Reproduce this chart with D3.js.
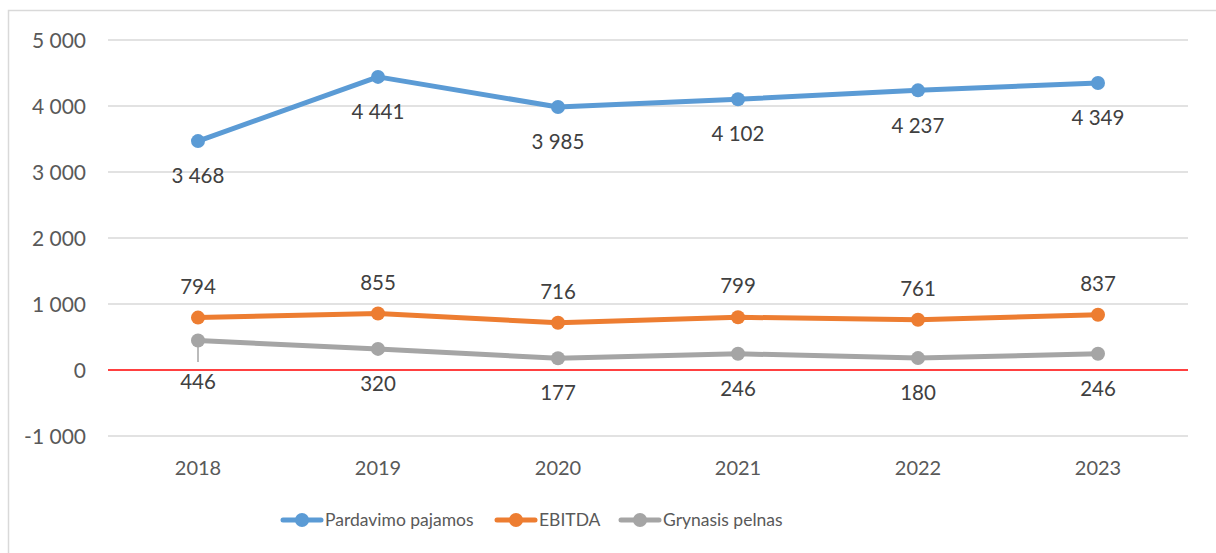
<!DOCTYPE html>
<html><head><meta charset="utf-8">
<script src="https://cdn.jsdelivr.net/npm/d3@7"></script>
<style>html,body{margin:0;padding:0;background:#fff;}svg{display:block;}</style>
</head><body>
<svg id="c" width="1216" height="553"></svg>
<script>
const years = ["2018","2019","2020","2021","2022","2023"];
const pardavimo = [3468, 4441, 3985, 4102, 4237, 4349];
const ebitda = [794, 855, 716, 799, 761, 837];
const grynasis = [446, 320, 177, 246, 180, 246];
const yTicks = [-1000, 0, 1000, 2000, 3000, 4000, 5000];
const seriesNames = ["Pardavimo pajamos", "EBITDA", "Grynasis pelnas"];
const colors = ["#5B9BD5", "#ED7D31", "#A5A5A5"];

const font = "Lato, 'Open Sans', sans-serif";
const svg = d3.select("#c");
svg.append("rect").attr("x",8.5).attr("y",10.5).attr("width",1230).attr("height",600)
  .attr("fill","#fff").attr("stroke","#d9d9d9").attr("stroke-width",1.5);

const x = d3.scaleBand().domain(years).range([108,1188]);
const y = d3.scaleLinear().domain([-1000,5000]).range([436,40]);
const fmt = v => (v<0?"-":"") + d3.format(",d")(Math.abs(v)).replace(/,/g," ");

// gridlines
svg.append("g").selectAll("line").data(yTicks.filter(t=>t!==0)).join("line")
  .attr("x1",108).attr("x2",1188).attr("y1",d=>y(d)).attr("y2",d=>y(d))
  .attr("stroke","#d9d9d9").attr("stroke-width",1.5);
// zero line
svg.append("line").attr("x1",108).attr("x2",1188).attr("y1",y(0)).attr("y2",y(0))
  .attr("stroke","#FF0000").attr("stroke-width",1.5);

// y axis labels
const yAxis = d3.axisLeft(y).tickValues(yTicks).tickSize(0).tickPadding(0).tickFormat(fmt);
const ya = svg.append("g").attr("transform","translate(86,0)").call(yAxis);
ya.select(".domain").remove();
ya.selectAll("text").attr("font-family",font).attr("font-size",21).attr("fill","#595959").attr("dy","0.35em");

// x axis labels
const xAxis = d3.axisBottom(x).tickSize(0).tickPadding(0);
const xa = svg.append("g").attr("transform","translate(0,468)").call(xAxis);
xa.select(".domain").remove();
xa.selectAll("text").attr("font-family",font).attr("font-size",20).attr("fill","#595959").attr("dy","0.35em");

const cx = d => x(d) + x.bandwidth()/2;
const data = [pardavimo, ebitda, grynasis];
const line = d3.line().x((d,i)=>cx(years[i])).y(d=>y(d));

// leader line for first grynasis label
svg.append("line").attr("x1",cx(years[0])).attr("x2",cx(years[0]))
  .attr("y1",y(grynasis[0])).attr("y2",y(0)-8).attr("stroke","#A5A5A5").attr("stroke-width",1.5);

data.forEach((vals, s) => {
  const g = svg.append("g");
  g.append("path").attr("d", line(vals)).attr("fill","none").attr("stroke",colors[s])
    .attr("stroke-width",5).attr("stroke-linejoin","round").attr("stroke-linecap","round");
  g.selectAll("circle").data(vals).join("circle")
    .attr("cx",(d,i)=>cx(years[i])).attr("cy",d=>y(d)).attr("r",7).attr("fill",colors[s]);
  g.selectAll("text").data(vals).join("text")
    .attr("x",(d,i)=>cx(years[i]))
    .attr("y",d=>{
      if (s===0) return y(d)+35;
      if (s===1) return y(d)-31;
      return Math.max(y(d)+35, y(0)+12);
    })
    .attr("dy","0.35em").attr("text-anchor","middle")
    .attr("font-family",font).attr("font-size",20.5).attr("fill","#404040")
    .text(d=>fmt(d));
});

// legend
const legX = [281, 495, 619];
const legY = 520;
seriesNames.forEach((n,s)=>{
  const g = svg.append("g");
  g.append("line").attr("x1",legX[s]+2).attr("x2",legX[s]+40).attr("y1",legY).attr("y2",legY)
    .attr("stroke",colors[s]).attr("stroke-width",5).attr("stroke-linecap","round");
  g.append("circle").attr("cx",legX[s]+21).attr("cy",legY).attr("r",7).attr("fill",colors[s]);
  g.append("text").attr("x",legX[s]+44).attr("y",legY).attr("dy","0.35em")
    .attr("font-family",font).attr("font-size",17.5).attr("fill","#595959").text(n);
});
</script>
</body></html>
